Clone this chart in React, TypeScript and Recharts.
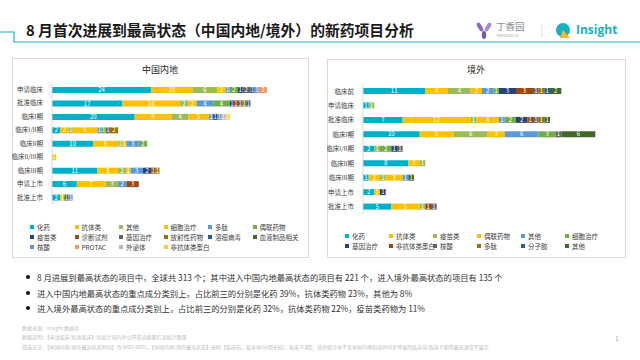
import React from 'react';
import { BarChart, Bar, XAxis, YAxis, LabelList } from 'recharts';

const FONT = "'Noto Sans CJK SC', 'Noto Sans', sans-serif";

// 中国内地
const cnStages = ['申请临床', '批准临床', '临床I期', '临床I/II期', '临床II期', '临床II/III期', '临床III期', '申请上市', '批准上市'];
const cnSeries = ['化药', '抗体类', '其他', '细胞治疗', '多肽', '偶联药物', '疫苗类', '诊断试剂', '基因治疗', '放射性药物', '溶瘤病毒', '血液制品相关', '核酸', 'PROTAC', '外泌体', '非抗体类蛋白'];
const cnColors = ['#00B0C8', '#FFC000', '#9BBB59', '#FFC000', '#5B9BD5', '#70AD47', '#264478', '#9E480E', '#636363', '#997300', '#255E91', '#43682B', '#698ED0', '#F1975A', '#B7B7B7', '#FFCD33'];

const cnChem = [24, 17, 20, 2, 10, 0, 11, 6, 2];
const cnAntibody = [10, 14, 9, 2, 6, 1, 5, 7, 1];
const cnOther = [6, 2, 4, 1, 1, 0, 2, 3, 0];
const cnCell = [2, 2, 5, 6, 1, 0, 1, 0, 0];
const cnPeptide = [1, 4, 1, 1, 3, 0, 3, 2, 0];
const cnAdc = [2, 4, 0, 1, 2, 0, 0, 0, 0];
const cnVaccine = [1, 1, 1, 0, 0, 0, 2, 0, 0];
const cnDiag = [0, 1, 0, 0, 0, 0, 1, 3, 0];
const cnGene = [2, 1, 0, 1, 0, 0, 0, 0, 0];
const cnRadio = [0, 1, 0, 2, 0, 0, 1, 0, 0];
const cnVirus = [1, 1, 0, 0, 0, 0, 0, 0, 0];
const cnBlood = [0, 0, 0, 0, 0, 0, 0, 0, 1];
const cnNucleic = [1, 0, 1, 0, 0, 0, 0, 0, 1];
const cnProtac = [2, 0, 0, 0, 0, 0, 0, 0, 0];
const cnExosome = [0, 0, 1, 0, 0, 0, 0, 0, 0];
const cnProtein = [0, 0, 1, 0, 0, 0, 0, 0, 0];
const cnValues = [cnChem, cnAntibody, cnOther, cnCell, cnPeptide, cnAdc, cnVaccine, cnDiag, cnGene, cnRadio, cnVirus, cnBlood, cnNucleic, cnProtac, cnExosome, cnProtein];

// 境外
const osStages = ['临床前', '申请临床', '批准临床', '临床I期', '临床I/II期', '临床II期', '临床III期', '申请上市', '批准上市'];
const osSeries = ['化药', '抗体类', '疫苗类', '偶联药物', '其他', '细胞治疗', '基因治疗', '非抗体类蛋白', '核酸', '多肽', '分子胶', '其他'];
const osColors = ['#00B0C8', '#FFC000', '#9BBB59', '#FFC000', '#5B9BD5', '#70AD47', '#264478', '#9E480E', '#636363', '#997300', '#255E91', '#43682B'];

const osChem = [11, 1, 7, 10, 2, 8, 1, 2, 5];
const osAntibody = [4, 0, 12, 6, 0, 2, 2, 0, 5];
const osVaccine = [4, 1, 1, 6, 1, 1, 1, 0, 1];
const osAdc = [2, 0, 4, 3, 0, 0, 3, 1, 0];
const osOther = [2, 0, 1, 6, 0, 0, 1, 0, 0];
const osCell = [1, 0, 2, 3, 2, 0, 0, 0, 0];
const osGene = [3, 0, 2, 0, 1, 0, 0, 1, 0];
const osProtein = [3, 0, 1, 0, 0, 0, 0, 0, 1];
const osNucleic = [1, 0, 1, 1, 1, 0, 0, 0, 1];
const osPeptide = [1, 0, 1, 0, 0, 0, 0, 0, 0];
const osGlue = [1, 0, 0, 0, 0, 0, 0, 0, 0];
const osOther2 = [2, 0, 1, 6, 0, 0, 1, 0, 0];
const osValues = [osChem, osAntibody, osVaccine, osAdc, osOther, osCell, osGene, osProtein, osNucleic, osPeptide, osGlue, osOther2];

const bullets = [
  '8 月进展到最高状态的项目中，全球共 313 个；其中进入中国内地最高状态的项目有 221 个，进入境外最高状态的项目有 135 个',
  '进入中国内地最高状态的重点成分类别上，占比前三的分别是化药 39%，抗体类药物 23%，其他为 8%',
  '进入境外最高状态的重点成分类别上，占比前三的分别是化药 32%，抗体类药物 22%，疫苗类药物为 11%',
];

const notes = [
  '数据来源：Insight 数据库',
  '数据说明：【申请临床/批准临床】仅统计国内外公开渠道披露信息统计整理',
  '筛选方法：【中国内地/境外最高状态时间】为 0801-0831，【中国内地/境外最高状态】去除【临床前、临床中(分期未知)、临床 0 期】；境外统计中不含中国内地和境外同步开展的临床前/临床 0 期等最高进度不展示',
];

function buildRows(stages: string[], values: number[][]) {
  return stages.map((stage, r) => {
    const row: any = { stage };
    values.forEach((v, i) => { row['s' + i] = v[r]; });
    return row;
  });
}

const hideZero = (v: any) => (v ? v : '');

function StackChart({ rows, series, colors, max, width, height, yWidth, margin }: any) {
  return (
    <BarChart layout="vertical" data={rows} width={width} height={height} margin={margin} barSize={6}>
      <XAxis type="number" domain={[0, max]} hide />
      <YAxis
        type="category"
        dataKey="stage"
        width={yWidth}
        interval={0}
        tickLine={false}
        tickMargin={3}
        axisLine={{ stroke: '#d9d9d9' }}
        tick={{ fontSize: 6.5, fill: '#404040', fontFamily: FONT }}
      />
      {series.map((name: string, i: number) => (
        <Bar key={i} dataKey={'s' + i} name={name} stackId="a" fill={colors[i]} isAnimationActive={false}>
          <LabelList dataKey={'s' + i} position="center" fill="#fff" fontSize={6} fontFamily={FONT} formatter={hideZero} />
        </Bar>
      ))}
    </BarChart>
  );
}

function Legend({ series, colors, x0, y0, dx, dy }: any) {
  return (
    <>
      {series.map((name: string, i: number) => (
        <div
          key={i}
          style={{ position: 'absolute', left: x0 + (i % 6) * dx, top: y0 + Math.floor(i / 6) * dy - 5, height: 10, display: 'flex', alignItems: 'center', fontSize: 6.5, color: '#404040', whiteSpace: 'nowrap' }}
        >
          <span style={{ width: 4, height: 4, background: colors[i], marginRight: 3, display: 'inline-block' }} />
          {name}
        </div>
      ))}
    </>
  );
}

export default function App() {
  const cnRows = buildRows(cnStages, cnValues);
  const osRows = buildRows(osStages, osValues);
  return (
    <div style={{ position: 'fixed', left: 0, top: 0, width: 640, height: 360, background: '#fff', fontFamily: FONT, overflow: 'hidden' }}>
      <svg width={640} height={50} style={{ position: 'absolute', left: 0, top: 0 }}>
        <polyline points="0,32 14,32 14,42 640,42" fill="none" stroke="#1AAFC4" strokeWidth={1.2} />
        <ellipse cx={480} cy={27} rx={2.2} ry={5} fill="#8E6BBF" transform="rotate(-30 480 27)" />
        <ellipse cx={488} cy={27} rx={2.2} ry={5} fill="#A98AD6" transform="rotate(30 488 27)" />
        <ellipse cx={484} cy={35} rx={2.2} ry={4} fill="#7B57B0" />
        <line x1={542} y1={25} x2={542} y2={38} stroke="#ddd" strokeWidth={1} />
        <circle cx={563} cy={30} r={7} fill="#1AAFC4" />
        <polygon points="563,30 570,38 560,38" fill="#F5B82E" />
      </svg>
      <div style={{ position: 'absolute', left: 26, top: 20, fontSize: 14.8, fontWeight: 700, color: '#1a1a1a', whiteSpace: 'nowrap', lineHeight: '20px' }}>
        8 月首次进展到最高状态（中国内地/境外）的新药项目分析
      </div>
      <div style={{ position: 'absolute', left: 496, top: 21, fontSize: 9.5, color: '#8a8a9a', lineHeight: '11px' }}>丁香园</div>
      <div style={{ position: 'absolute', left: 497, top: 34, fontSize: 3.5, color: '#aaa', lineHeight: '4px' }}>WWW.DXY.CN</div>
      <div style={{ position: 'absolute', left: 576, top: 22, fontSize: 12, fontWeight: 700, color: '#1AAFC4', fontFamily: "'Open Sans', sans-serif", lineHeight: '16px' }}>Insight</div>

      <div style={{ position: 'absolute', left: 12, top: 58, width: 295, height: 198, border: '1px solid #d9d9d9' }} />
      <div style={{ position: 'absolute', left: 327, top: 59, width: 297, height: 197, border: '1px solid #d9d9d9' }} />
      <div style={{ position: 'absolute', left: 12, top: 63, width: 296, textAlign: 'center', fontSize: 9, color: '#222', lineHeight: '14px' }}>中国内地</div>
      <div style={{ position: 'absolute', left: 327, top: 63, width: 298, textAlign: 'center', fontSize: 9, color: '#222', lineHeight: '14px' }}>境外</div>

      <div style={{ position: 'absolute', left: 12, top: 58 }}>
        <StackChart rows={cnRows} series={cnSeries} colors={cnColors} max={60} width={296} height={200} yWidth={40}
          margin={{ top: 25, right: 8, bottom: 54, left: 0 }} />
      </div>
      <div style={{ position: 'absolute', left: 327, top: 58 }}>
        <StackChart rows={osRows} series={osSeries} colors={osColors} max={45} width={298} height={200} yWidth={36}
          margin={{ top: 26, right: 7, bottom: 44, left: 0 }} />
      </div>

      <Legend series={cnSeries} colors={cnColors} x0={30} y0={227} dx={44.5} dy={10} />
      <Legend series={osSeries} colors={osColors} x0={345} y0={236} dx={44} dy={10} />

      {bullets.map((b, i) => (
        <div key={i} style={{ position: 'absolute', left: 26, top: 271 + i * 15.5, fontSize: 8.3, color: '#333', whiteSpace: 'nowrap', lineHeight: '12px', display: 'flex', alignItems: 'center' }}>
          <span style={{ width: 4, height: 4, borderRadius: 2, background: '#111', marginRight: 7, display: 'inline-block' }} />
          {b}
        </div>
      ))}

      {notes.map((n, i) => (
        <div key={i} style={{ position: 'absolute', left: 22, top: 324 + i * 9.3, fontSize: 5, color: '#bdbdbd', whiteSpace: 'nowrap', lineHeight: '7px' }}>{n}</div>
      ))}
      <div style={{ position: 'absolute', left: 615, top: 333, fontSize: 7, color: '#aaa' }}>1</div>
    </div>
  );
}
